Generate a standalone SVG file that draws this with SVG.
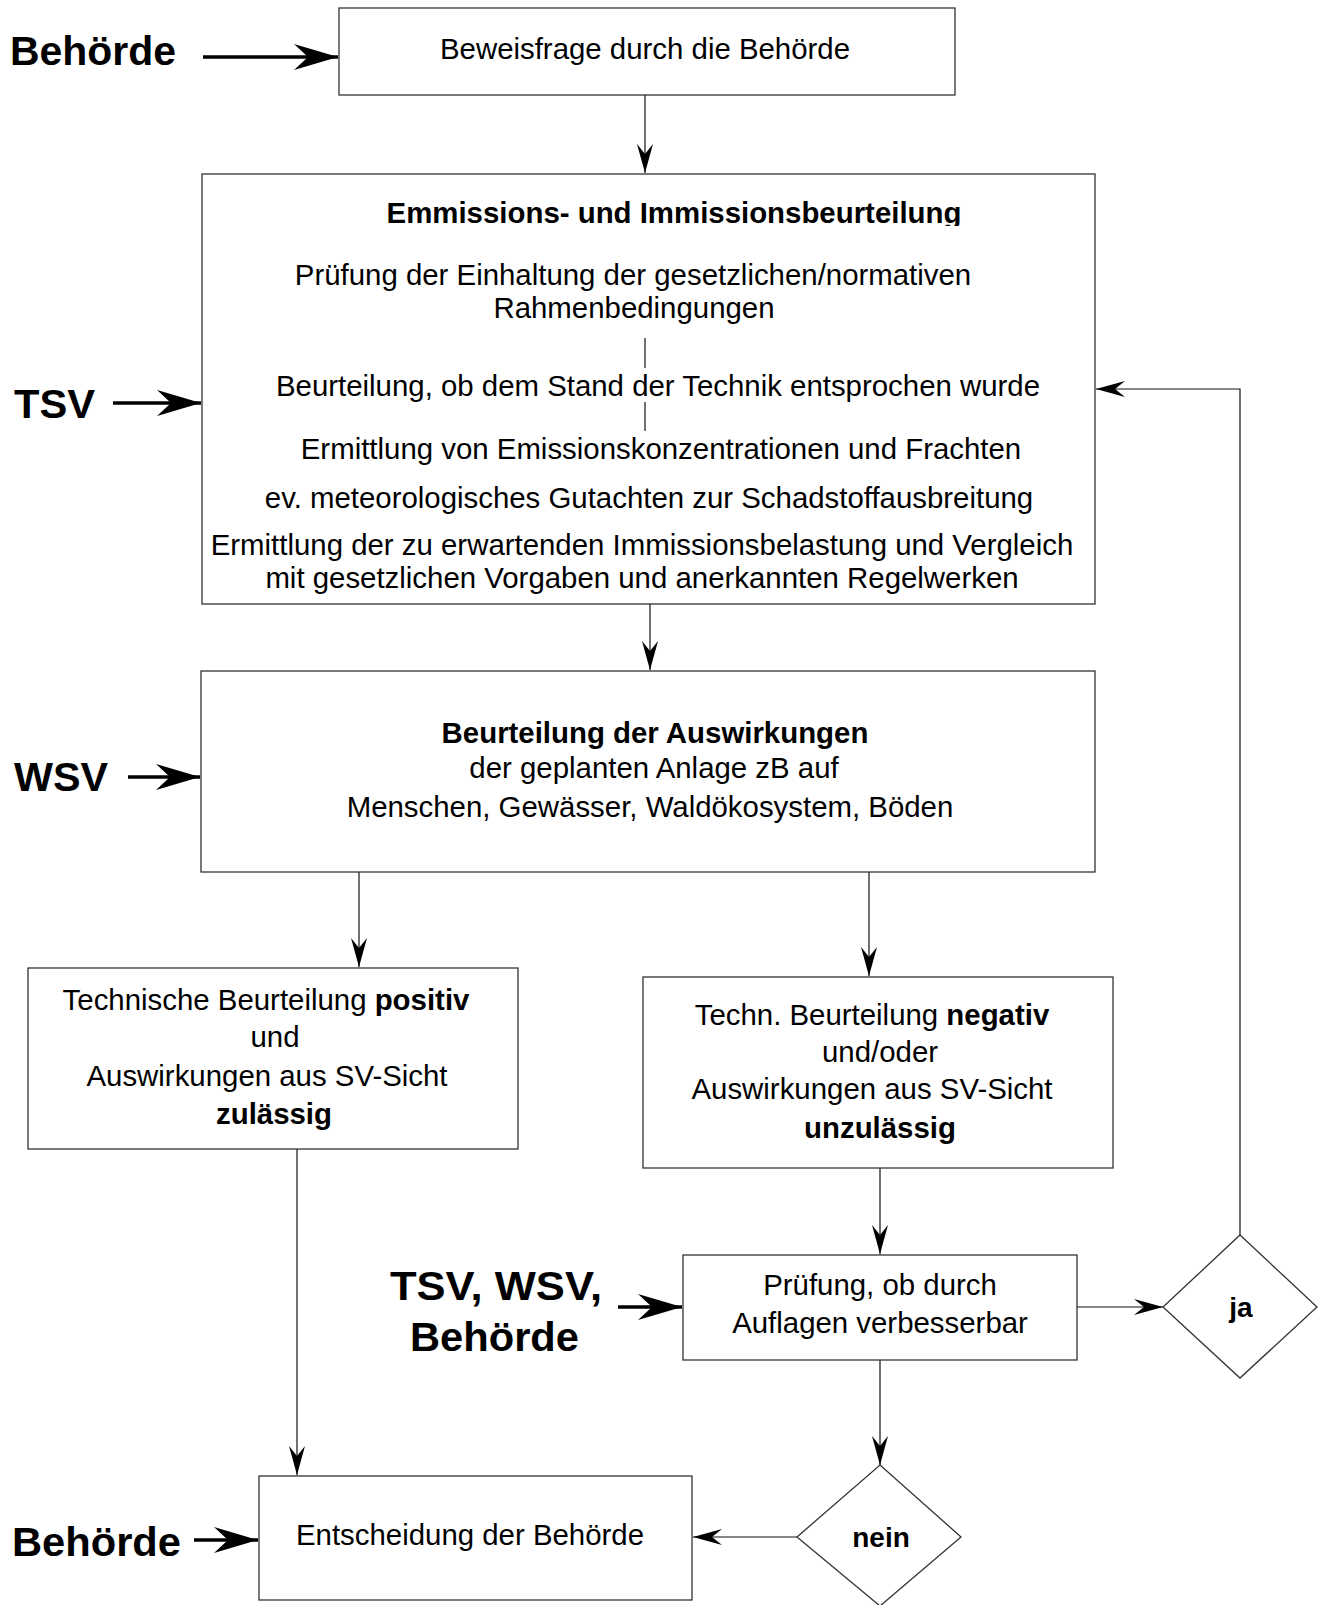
<svg xmlns="http://www.w3.org/2000/svg" width="1319" height="1605" viewBox="0 0 1319 1605">
<style>
text{font-family:"Liberation Sans",Arial,sans-serif;fill:#000}
.t{font-size:29.4px;text-anchor:middle}
.h{font-size:29.4px;font-weight:bold;text-anchor:middle}
.b{font-weight:bold}
.lbl{font-size:40px;font-weight:bold}
.dl{font-size:28px;font-weight:bold;text-anchor:middle}
.box{fill:#fff;stroke:#333;stroke-width:1.3}
.con{fill:none;stroke:#111;stroke-width:1.2}
.thick{fill:none;stroke:#000;stroke-width:3.5}
.sep{stroke:#111;stroke-width:1.2}
</style>
<defs>
<marker id="ah" markerUnits="userSpaceOnUse" markerWidth="40" markerHeight="24" viewBox="-32 -12 34 24" refX="0" refY="0" orient="auto">
<path d="M0,0 L-29,-8 L-19,0 L-29,8 Z" fill="#000"/>
</marker>
<marker id="big" markerUnits="userSpaceOnUse" markerWidth="52" markerHeight="32" viewBox="-48 -16 50 32" refX="0" refY="0" orient="auto">
<path d="M0,0 L-44,-13 L-30,0 L-44,13 Z" fill="#000"/>
</marker>
<clipPath id="titleclip"><rect x="202" y="174" width="893" height="52"/></clipPath>
</defs>
<rect width="1319" height="1605" fill="#fff"/>

<g id="connectors">
<line class="con" x1="645" y1="95" x2="645" y2="173" marker-end="url(#ah)"/>
<line class="con" x1="650" y1="604" x2="650" y2="670" marker-end="url(#ah)"/>
<line class="con" x1="359" y1="872" x2="359" y2="967" marker-end="url(#ah)"/>
<line class="con" x1="869" y1="872" x2="869" y2="976" marker-end="url(#ah)"/>
<line class="con" x1="880" y1="1168" x2="880" y2="1254" marker-end="url(#ah)"/>
<line class="con" x1="1077" y1="1307" x2="1163" y2="1307" marker-end="url(#ah)"/>
<path class="con" d="M1240,1235 L1240,389 L1096,389" marker-end="url(#ah)"/>
<line class="con" x1="880" y1="1360" x2="880" y2="1465" marker-end="url(#ah)"/>
<line class="con" x1="797" y1="1537" x2="693" y2="1537" marker-end="url(#ah)"/>
<line class="con" x1="297" y1="1149" x2="297" y2="1475" marker-end="url(#ah)"/>
<line class="thick" x1="203" y1="57" x2="338" y2="57" marker-end="url(#big)"/>
<line class="thick" x1="113" y1="403" x2="201" y2="403" marker-end="url(#big)"/>
<line class="thick" x1="128" y1="777" x2="200" y2="777" marker-end="url(#big)"/>
<line class="thick" x1="618" y1="1307" x2="682" y2="1307" marker-end="url(#big)"/>
<line class="thick" x1="194" y1="1540" x2="258" y2="1540" marker-end="url(#big)"/>
</g>

<g id="label-behoerde-top"><text class="lbl" x="10" y="65" textLength="166" lengthAdjust="spacingAndGlyphs">Behörde</text></g>
<g id="label-tsv"><text class="lbl" x="14" y="418" textLength="81" lengthAdjust="spacingAndGlyphs">TSV</text></g>
<g id="label-wsv"><text class="lbl" x="14" y="791" textLength="94" lengthAdjust="spacingAndGlyphs">WSV</text></g>
<g id="label-tsv-wsv-behoerde">
<text class="lbl" x="390" y="1300" textLength="212" lengthAdjust="spacingAndGlyphs">TSV, WSV,</text>
<text class="lbl" x="410" y="1351" textLength="169" lengthAdjust="spacingAndGlyphs">Behörde</text>
</g>
<g id="label-behoerde-bottom"><text class="lbl" x="12" y="1556" textLength="169" lengthAdjust="spacingAndGlyphs">Behörde</text></g>

<g id="box-beweisfrage">
<rect class="box" x="339" y="8" width="616" height="87"/>
<text class="t" x="645" y="59">Beweisfrage durch die Behörde</text>
</g>

<g id="box-emission">
<rect class="box" x="202" y="174" width="893" height="430"/>
<text class="h" x="674" y="223" clip-path="url(#titleclip)">Emmissions- und Immissionsbeurteilung</text>
<text class="t" x="633" y="285">Prüfung der Einhaltung der gesetzlichen/normativen</text>
<text class="t" x="634" y="318">Rahmenbedingungen</text>
<line class="sep" x1="645" y1="338" x2="645" y2="368"/>
<text class="t" x="658" y="396">Beurteilung, ob dem Stand der Technik entsprochen wurde</text>
<line class="sep" x1="645" y1="402" x2="645" y2="431"/>
<text class="t" x="661" y="459">Ermittlung von Emissionskonzentrationen und Frachten</text>
<text class="t" x="649" y="508">ev. meteorologisches Gutachten zur Schadstoffausbreitung</text>
<text class="t" x="642" y="555">Ermittlung der zu erwartenden Immissionsbelastung und Vergleich</text>
<text class="t" x="642" y="588">mit gesetzlichen Vorgaben und anerkannten Regelwerken</text>
</g>

<g id="box-auswirkungen">
<rect class="box" x="201" y="671" width="894" height="201"/>
<text class="h" x="655" y="743">Beurteilung der Auswirkungen</text>
<text class="t" x="654" y="778">der geplanten Anlage zB auf</text>
<text class="t" x="650" y="817">Menschen, Gewässer, Waldökosystem, Böden</text>
</g>

<g id="box-positiv">
<rect class="box" x="28" y="968" width="490" height="181"/>
<text class="t" x="266" y="1010">Technische Beurteilung <tspan class="b">positiv</tspan></text>
<text class="t" x="275" y="1047">und</text>
<text class="t" x="267" y="1086">Auswirkungen aus SV-Sicht</text>
<text class="h" x="274" y="1124">zulässig</text>
</g>

<g id="box-negativ">
<rect class="box" x="643" y="977" width="470" height="191"/>
<text class="t" x="872" y="1025">Techn. Beurteilung <tspan class="b">negativ</tspan></text>
<text class="t" x="880" y="1062">und/oder</text>
<text class="t" x="872" y="1099">Auswirkungen aus SV-Sicht</text>
<text class="h" x="880" y="1138">unzulässig</text>
</g>

<g id="box-pruefung">
<rect class="box" x="683" y="1255" width="394" height="105"/>
<text class="t" x="880" y="1295">Prüfung, ob durch</text>
<text class="t" x="880" y="1333">Auflagen verbesserbar</text>
</g>

<g id="decision-ja">
<polygon class="box" points="1240,1235 1317,1307 1240,1378 1163,1307"/>
<text class="dl" x="1241" y="1317">ja</text>
</g>

<g id="decision-nein">
<polygon class="box" points="880,1465 961,1537 880,1606 797,1537"/>
<text class="dl" x="881" y="1547">nein</text>
</g>

<g id="box-entscheidung">
<rect class="box" x="259" y="1476" width="433" height="124"/>
<text class="t" x="470" y="1545">Entscheidung der Behörde</text>
</g>
</svg>
